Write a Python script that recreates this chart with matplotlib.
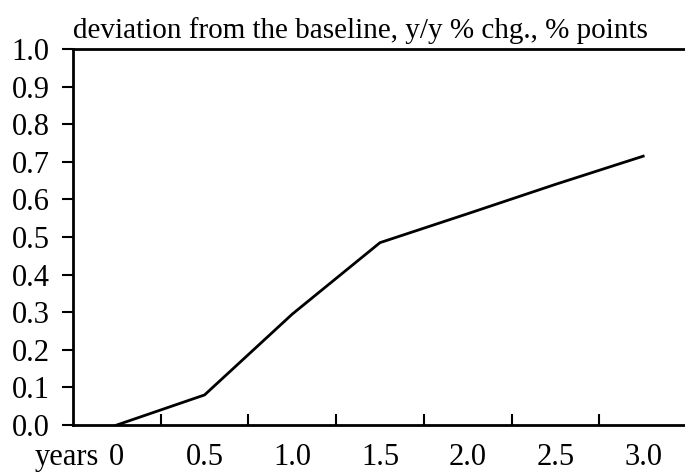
import matplotlib
matplotlib.use("Agg")
import matplotlib.pyplot as plt
import matplotlib.transforms as mtransforms

# categories (years) and deviation values
years = ["0", "0.5", "1.0", "1.5", "2.0", "2.5", "3.0"]
deviation = [0.0, 0.08, 0.295, 0.485, 0.562, 0.640, 0.715]
y_ticks = [0.0, 0.1, 0.2, 0.3, 0.4, 0.5, 0.6, 0.7, 0.8, 0.9, 1.0]

plt.rcParams['font.family'] = ['Liberation Serif', 'DejaVu Serif']

fig = plt.figure(figsize=(6.85, 4.72), dpi=100)
ax = fig.add_axes([73/685, 1 - 425/472, 1 - 73/685 + 0.003, (425 - 49)/472])

x = list(range(len(years)))
ax.plot(x, deviation, color='black', linewidth=2)

xpad = 13
ax.set_xlim(-0.5, len(years) - 0.5)
ax.set_ylim(0, 1.0)
ax.set_yticks(y_ticks)
ax.set_yticklabels([f"{v:.1f}" for v in y_ticks], fontsize=22)
ax.set_xticks(x)
ax.set_xticklabels(years, fontsize=22)
ax.set_xticks([i + 0.5 for i in x[:-1]], minor=True)

ax.tick_params(axis='x', which='major', length=0, pad=xpad)
ax.tick_params(axis='x', which='minor', direction='in', length=8, width=1.5)
ax.tick_params(axis='y', direction='out', length=8, width=1.5, pad=9)

for s in ['left', 'bottom', 'top']:
    ax.spines[s].set_linewidth(2)
ax.spines['right'].set_visible(False)

# "years" sits on the same line as the x tick labels
offset = mtransforms.ScaledTranslation(0, -xpad / 72, fig.dpi_scale_trans)
ax.text(-0.2, 0, "years", transform=ax.get_xaxis_transform() + offset,
        ha='right', va='top', fontsize=22)

fig.text(73/685, 1 - 38/472, "deviation from the baseline, y/y % chg., % points",
         ha='left', va='baseline', fontsize=21)

fig.savefig("out.png", dpi=100)
